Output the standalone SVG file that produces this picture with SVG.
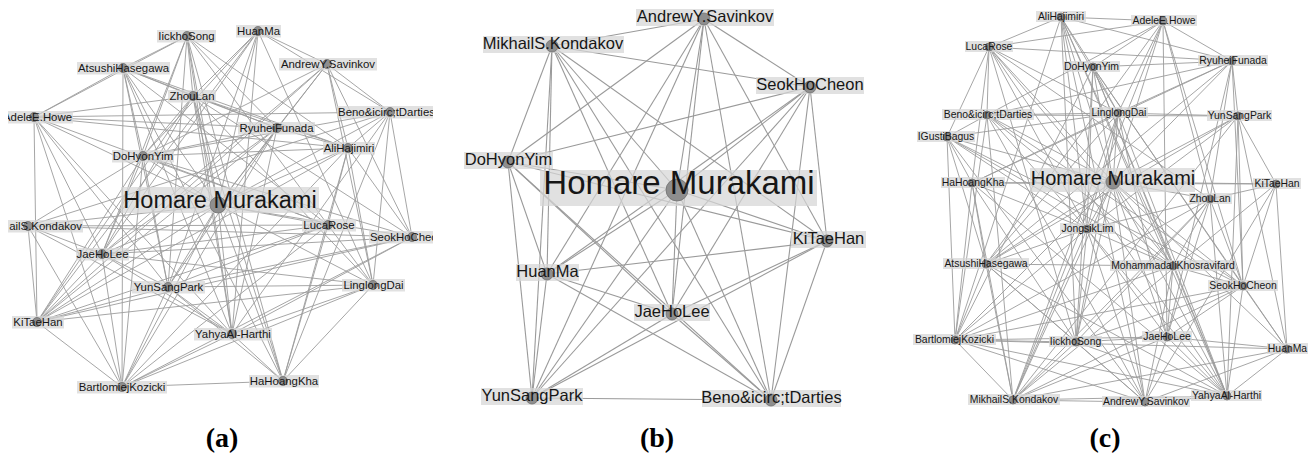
<svg xmlns="http://www.w3.org/2000/svg" width="1315" height="458" viewBox="0 0 1315 458">
<style>
.e line{stroke:#9c9c9c;stroke-width:0.9;fill:none}
.eb line{stroke:#9a9a9a;stroke-width:1.1}
.lbl{fill:#d6d6d6;fill-opacity:0.72}
.nd{fill:#8e8e8e;stroke:#707070;stroke-width:0.8}
.t{font-family:"Liberation Sans",Arial,sans-serif;fill:#161616;text-anchor:middle}
.ta{font-size:11.4px}
.tb{font-size:16.5px}
.tc{font-size:10.4px}
.cap{font-family:"Liberation Serif","Times New Roman",serif;font-weight:bold;font-size:28px;text-anchor:middle;fill:#000}
</style>
<defs>
<clipPath id="clipA"><rect x="8" y="0" width="425" height="420"/></clipPath>
</defs>
<rect width="1315" height="458" fill="#fff"/>
<g id="connectors">
<g id="edges-a" class="e" clip-path="url(#clipA)">
<line x1="218" y1="205" x2="187" y2="36"/><line x1="218" y1="205" x2="258" y2="31"/><line x1="218" y1="205" x2="123" y2="68"/><line x1="218" y1="205" x2="327" y2="64"/><line x1="218" y1="205" x2="193" y2="96"/><line x1="218" y1="205" x2="34" y2="117"/><line x1="218" y1="205" x2="390" y2="112"/><line x1="218" y1="205" x2="277" y2="128"/><line x1="218" y1="205" x2="348" y2="148"/><line x1="218" y1="205" x2="143" y2="156"/><line x1="218" y1="205" x2="28" y2="226"/><line x1="218" y1="205" x2="328" y2="225"/><line x1="218" y1="205" x2="412" y2="237"/><line x1="218" y1="205" x2="102" y2="254"/><line x1="218" y1="205" x2="168" y2="287"/><line x1="218" y1="205" x2="373" y2="285"/><line x1="218" y1="205" x2="37" y2="322"/><line x1="218" y1="205" x2="232" y2="334"/><line x1="218" y1="205" x2="283" y2="381"/><line x1="218" y1="205" x2="122" y2="387"/>
<line x1="34" y1="117" x2="187" y2="36"/><line x1="34" y1="117" x2="123" y2="68"/><line x1="34" y1="117" x2="193" y2="96"/><line x1="34" y1="117" x2="277" y2="128"/><line x1="34" y1="117" x2="348" y2="148"/><line x1="34" y1="117" x2="390" y2="112"/><line x1="34" y1="117" x2="102" y2="254"/><line x1="34" y1="117" x2="168" y2="287"/><line x1="34" y1="117" x2="37" y2="322"/><line x1="34" y1="117" x2="328" y2="225"/><line x1="34" y1="117" x2="122" y2="387"/><line x1="34" y1="117" x2="232" y2="334"/>
<line x1="187" y1="36" x2="123" y2="68"/><line x1="187" y1="36" x2="193" y2="96"/><line x1="187" y1="36" x2="277" y2="128"/><line x1="187" y1="36" x2="348" y2="148"/><line x1="187" y1="36" x2="143" y2="156"/><line x1="187" y1="36" x2="168" y2="287"/><line x1="187" y1="36" x2="232" y2="334"/><line x1="187" y1="36" x2="102" y2="254"/><line x1="187" y1="36" x2="328" y2="225"/><line x1="187" y1="36" x2="283" y2="381"/>
<line x1="258" y1="31" x2="327" y2="64"/><line x1="258" y1="31" x2="390" y2="112"/><line x1="258" y1="31" x2="143" y2="156"/><line x1="258" y1="31" x2="102" y2="254"/><line x1="258" y1="31" x2="193" y2="96"/><line x1="258" y1="31" x2="37" y2="322"/><line x1="258" y1="31" x2="168" y2="287"/><line x1="258" y1="31" x2="373" y2="285"/><line x1="258" y1="31" x2="232" y2="334"/>
<line x1="123" y1="68" x2="193" y2="96"/><line x1="123" y1="68" x2="277" y2="128"/><line x1="123" y1="68" x2="348" y2="148"/><line x1="123" y1="68" x2="143" y2="156"/><line x1="123" y1="68" x2="122" y2="387"/><line x1="123" y1="68" x2="168" y2="287"/><line x1="123" y1="68" x2="232" y2="334"/><line x1="123" y1="68" x2="283" y2="381"/><line x1="123" y1="68" x2="328" y2="225"/>
<line x1="327" y1="64" x2="277" y2="128"/><line x1="327" y1="64" x2="348" y2="148"/><line x1="327" y1="64" x2="390" y2="112"/><line x1="327" y1="64" x2="143" y2="156"/><line x1="327" y1="64" x2="102" y2="254"/><line x1="327" y1="64" x2="37" y2="322"/><line x1="327" y1="64" x2="373" y2="285"/><line x1="327" y1="64" x2="412" y2="237"/>
<line x1="193" y1="96" x2="277" y2="128"/><line x1="193" y1="96" x2="348" y2="148"/><line x1="193" y1="96" x2="143" y2="156"/><line x1="193" y1="96" x2="37" y2="322"/><line x1="193" y1="96" x2="102" y2="254"/><line x1="193" y1="96" x2="232" y2="334"/><line x1="193" y1="96" x2="373" y2="285"/><line x1="193" y1="96" x2="283" y2="381"/><line x1="193" y1="96" x2="412" y2="237"/>
<line x1="390" y1="112" x2="348" y2="148"/><line x1="390" y1="112" x2="412" y2="237"/><line x1="390" y1="112" x2="373" y2="285"/><line x1="390" y1="112" x2="143" y2="156"/><line x1="390" y1="112" x2="28" y2="226"/><line x1="390" y1="112" x2="283" y2="381"/><line x1="390" y1="112" x2="232" y2="334"/>
<line x1="277" y1="128" x2="348" y2="148"/><line x1="277" y1="128" x2="143" y2="156"/><line x1="277" y1="128" x2="37" y2="322"/><line x1="277" y1="128" x2="102" y2="254"/><line x1="277" y1="128" x2="168" y2="287"/><line x1="277" y1="128" x2="232" y2="334"/><line x1="277" y1="128" x2="122" y2="387"/>
<line x1="348" y1="148" x2="143" y2="156"/><line x1="348" y1="148" x2="328" y2="225"/><line x1="348" y1="148" x2="412" y2="237"/><line x1="348" y1="148" x2="373" y2="285"/><line x1="348" y1="148" x2="283" y2="381"/><line x1="348" y1="148" x2="122" y2="387"/><line x1="348" y1="148" x2="37" y2="322"/>
<line x1="143" y1="156" x2="102" y2="254"/><line x1="143" y1="156" x2="37" y2="322"/><line x1="143" y1="156" x2="168" y2="287"/><line x1="143" y1="156" x2="328" y2="225"/><line x1="143" y1="156" x2="412" y2="237"/><line x1="143" y1="156" x2="122" y2="387"/><line x1="143" y1="156" x2="28" y2="226"/>
<line x1="28" y1="226" x2="102" y2="254"/><line x1="28" y1="226" x2="37" y2="322"/><line x1="28" y1="226" x2="328" y2="225"/><line x1="28" y1="226" x2="412" y2="237"/><line x1="28" y1="226" x2="232" y2="334"/><line x1="28" y1="226" x2="122" y2="387"/>
<line x1="328" y1="225" x2="102" y2="254"/><line x1="328" y1="225" x2="168" y2="287"/><line x1="328" y1="225" x2="37" y2="322"/><line x1="328" y1="225" x2="373" y2="285"/><line x1="328" y1="225" x2="122" y2="387"/><line x1="328" y1="225" x2="283" y2="381"/>
<line x1="412" y1="237" x2="102" y2="254"/><line x1="412" y1="237" x2="168" y2="287"/><line x1="412" y1="237" x2="37" y2="322"/><line x1="412" y1="237" x2="122" y2="387"/><line x1="412" y1="237" x2="232" y2="334"/>
<line x1="102" y1="254" x2="168" y2="287"/><line x1="102" y1="254" x2="37" y2="322"/><line x1="102" y1="254" x2="232" y2="334"/><line x1="102" y1="254" x2="373" y2="285"/><line x1="102" y1="254" x2="122" y2="387"/>
<line x1="168" y1="287" x2="37" y2="322"/><line x1="168" y1="287" x2="232" y2="334"/><line x1="168" y1="287" x2="373" y2="285"/><line x1="168" y1="287" x2="283" y2="381"/><line x1="168" y1="287" x2="122" y2="387"/>
<line x1="373" y1="285" x2="37" y2="322"/><line x1="373" y1="285" x2="232" y2="334"/><line x1="373" y1="285" x2="283" y2="381"/><line x1="373" y1="285" x2="122" y2="387"/>
<line x1="37" y1="322" x2="122" y2="387"/><line x1="232" y1="334" x2="283" y2="381"/><line x1="232" y1="334" x2="122" y2="387"/><line x1="283" y1="381" x2="122" y2="387"/>
</g>
<g id="edges-b" class="e eb">
<line x1="677" y1="190" x2="704" y2="19"/><line x1="677" y1="190" x2="552" y2="46"/><line x1="677" y1="190" x2="810" y2="87"/><line x1="677" y1="190" x2="508" y2="162"/><line x1="677" y1="190" x2="827" y2="241"/><line x1="677" y1="190" x2="547" y2="274"/><line x1="677" y1="190" x2="672" y2="314"/><line x1="677" y1="190" x2="532" y2="398"/><line x1="677" y1="190" x2="771" y2="400"/>
<line x1="704" y1="19" x2="552" y2="46"/><line x1="704" y1="19" x2="810" y2="87"/><line x1="704" y1="19" x2="508" y2="162"/><line x1="704" y1="19" x2="827" y2="241"/><line x1="704" y1="19" x2="547" y2="274"/><line x1="704" y1="19" x2="672" y2="314"/><line x1="704" y1="19" x2="532" y2="398"/><line x1="704" y1="19" x2="771" y2="400"/>
<line x1="552" y1="46" x2="810" y2="87"/><line x1="552" y1="46" x2="508" y2="162"/><line x1="552" y1="46" x2="827" y2="241"/><line x1="552" y1="46" x2="547" y2="274"/><line x1="552" y1="46" x2="672" y2="314"/><line x1="552" y1="46" x2="532" y2="398"/><line x1="552" y1="46" x2="771" y2="400"/>
<line x1="810" y1="87" x2="508" y2="162"/><line x1="810" y1="87" x2="827" y2="241"/><line x1="810" y1="87" x2="547" y2="274"/><line x1="810" y1="87" x2="672" y2="314"/><line x1="810" y1="87" x2="532" y2="398"/><line x1="810" y1="87" x2="771" y2="400"/>
<line x1="508" y1="162" x2="827" y2="241"/><line x1="508" y1="162" x2="547" y2="274"/><line x1="508" y1="162" x2="672" y2="314"/><line x1="508" y1="162" x2="532" y2="398"/><line x1="508" y1="162" x2="771" y2="400"/>
<line x1="827" y1="241" x2="547" y2="274"/><line x1="827" y1="241" x2="672" y2="314"/><line x1="827" y1="241" x2="532" y2="398"/><line x1="827" y1="241" x2="771" y2="400"/>
<line x1="547" y1="274" x2="672" y2="314"/><line x1="547" y1="274" x2="532" y2="398"/><line x1="547" y1="274" x2="771" y2="400"/>
<line x1="672" y1="314" x2="532" y2="398"/><line x1="672" y1="314" x2="771" y2="400"/>
<line x1="532" y1="398" x2="771" y2="400"/>
</g>
<g id="edges-c" class="e">
<line x1="1113" y1="182" x2="1061" y2="17"/><line x1="1113" y1="182" x2="1163" y2="21"/><line x1="1113" y1="182" x2="989" y2="47"/><line x1="1113" y1="182" x2="1232" y2="61"/><line x1="1113" y1="182" x2="1093" y2="67"/><line x1="1113" y1="182" x2="987" y2="115"/><line x1="1113" y1="182" x2="1118" y2="113"/><line x1="1113" y1="182" x2="1238" y2="116"/><line x1="1113" y1="182" x2="947" y2="137"/><line x1="1113" y1="182" x2="972" y2="183"/><line x1="1113" y1="182" x2="1276" y2="184"/><line x1="1113" y1="182" x2="1210" y2="199"/><line x1="1113" y1="182" x2="1087" y2="229"/><line x1="1113" y1="182" x2="986" y2="264"/><line x1="1113" y1="182" x2="1173" y2="266"/><line x1="1113" y1="182" x2="1243" y2="286"/><line x1="1113" y1="182" x2="955" y2="340"/><line x1="1113" y1="182" x2="1076" y2="342"/><line x1="1113" y1="182" x2="1167" y2="337"/><line x1="1113" y1="182" x2="1287" y2="349"/><line x1="1113" y1="182" x2="1013" y2="400"/><line x1="1113" y1="182" x2="1145" y2="402"/><line x1="1113" y1="182" x2="1227" y2="396"/>
<line x1="1061" y1="17" x2="1163" y2="21"/><line x1="1061" y1="17" x2="989" y2="47"/><line x1="1061" y1="17" x2="1232" y2="61"/><line x1="1061" y1="17" x2="1093" y2="67"/><line x1="1061" y1="17" x2="1118" y2="113"/><line x1="1061" y1="17" x2="1087" y2="229"/><line x1="1061" y1="17" x2="1076" y2="342"/><line x1="1061" y1="17" x2="1173" y2="266"/><line x1="1061" y1="17" x2="955" y2="340"/><line x1="1061" y1="17" x2="1227" y2="396"/><line x1="1061" y1="17" x2="1145" y2="402"/>
<line x1="1163" y1="21" x2="989" y2="47"/><line x1="1163" y1="21" x2="1232" y2="61"/><line x1="1163" y1="21" x2="1093" y2="67"/><line x1="1163" y1="21" x2="1118" y2="113"/><line x1="1163" y1="21" x2="1210" y2="199"/><line x1="1163" y1="21" x2="1243" y2="286"/><line x1="1163" y1="21" x2="1167" y2="337"/><line x1="1163" y1="21" x2="987" y2="115"/><line x1="1163" y1="21" x2="986" y2="264"/><line x1="1163" y1="21" x2="1013" y2="400"/>
<line x1="989" y1="47" x2="1232" y2="61"/><line x1="989" y1="47" x2="987" y2="115"/><line x1="989" y1="47" x2="947" y2="137"/><line x1="989" y1="47" x2="972" y2="183"/><line x1="989" y1="47" x2="1118" y2="113"/><line x1="989" y1="47" x2="1087" y2="229"/><line x1="989" y1="47" x2="1173" y2="266"/><line x1="989" y1="47" x2="1210" y2="199"/><line x1="989" y1="47" x2="1227" y2="396"/><line x1="989" y1="47" x2="1076" y2="342"/>
<line x1="1232" y1="61" x2="1093" y2="67"/><line x1="1232" y1="61" x2="1118" y2="113"/><line x1="1232" y1="61" x2="1238" y2="116"/><line x1="1232" y1="61" x2="987" y2="115"/><line x1="1232" y1="61" x2="1167" y2="337"/><line x1="1232" y1="61" x2="1210" y2="199"/><line x1="1232" y1="61" x2="1243" y2="286"/><line x1="1232" y1="61" x2="972" y2="183"/><line x1="1232" y1="61" x2="986" y2="264"/>
<line x1="1093" y1="67" x2="1118" y2="113"/><line x1="1093" y1="67" x2="1087" y2="229"/><line x1="1093" y1="67" x2="1173" y2="266"/><line x1="1093" y1="67" x2="1243" y2="286"/><line x1="1093" y1="67" x2="1287" y2="349"/><line x1="1093" y1="67" x2="1076" y2="342"/><line x1="1093" y1="67" x2="955" y2="340"/><line x1="1093" y1="67" x2="1227" y2="396"/>
<line x1="987" y1="115" x2="1118" y2="113"/><line x1="987" y1="115" x2="1238" y2="116"/><line x1="987" y1="115" x2="947" y2="137"/><line x1="987" y1="115" x2="1087" y2="229"/><line x1="987" y1="115" x2="1173" y2="266"/><line x1="987" y1="115" x2="1243" y2="286"/><line x1="987" y1="115" x2="1145" y2="402"/><line x1="987" y1="115" x2="955" y2="340"/><line x1="987" y1="115" x2="1013" y2="400"/>
<line x1="1118" y1="113" x2="1238" y2="116"/><line x1="1118" y1="113" x2="947" y2="137"/><line x1="1118" y1="113" x2="972" y2="183"/><line x1="1118" y1="113" x2="986" y2="264"/><line x1="1118" y1="113" x2="1087" y2="229"/><line x1="1118" y1="113" x2="1167" y2="337"/><line x1="1118" y1="113" x2="1076" y2="342"/><line x1="1118" y1="113" x2="1227" y2="396"/><line x1="1118" y1="113" x2="1013" y2="400"/>
<line x1="1238" y1="116" x2="1276" y2="184"/><line x1="1238" y1="116" x2="1243" y2="286"/><line x1="1238" y1="116" x2="1287" y2="349"/><line x1="1238" y1="116" x2="1087" y2="229"/><line x1="1238" y1="116" x2="1013" y2="400"/><line x1="1238" y1="116" x2="986" y2="264"/><line x1="1238" y1="116" x2="1227" y2="396"/>
<line x1="947" y1="137" x2="972" y2="183"/><line x1="947" y1="137" x2="986" y2="264"/><line x1="947" y1="137" x2="955" y2="340"/><line x1="947" y1="137" x2="1173" y2="266"/><line x1="947" y1="137" x2="1087" y2="229"/><line x1="947" y1="137" x2="1243" y2="286"/><line x1="947" y1="137" x2="1145" y2="402"/>
<line x1="972" y1="183" x2="1276" y2="184"/><line x1="972" y1="183" x2="986" y2="264"/><line x1="972" y1="183" x2="955" y2="340"/><line x1="972" y1="183" x2="1087" y2="229"/><line x1="972" y1="183" x2="1013" y2="400"/><line x1="972" y1="183" x2="1076" y2="342"/><line x1="972" y1="183" x2="1227" y2="396"/>
<line x1="1276" y1="184" x2="1210" y2="199"/><line x1="1276" y1="184" x2="1243" y2="286"/><line x1="1276" y1="184" x2="1287" y2="349"/><line x1="1276" y1="184" x2="1013" y2="400"/><line x1="1276" y1="184" x2="1145" y2="402"/>
<line x1="1210" y1="199" x2="1087" y2="229"/><line x1="1210" y1="199" x2="1173" y2="266"/><line x1="1210" y1="199" x2="1243" y2="286"/><line x1="1210" y1="199" x2="1167" y2="337"/><line x1="1210" y1="199" x2="1227" y2="396"/><line x1="1210" y1="199" x2="1013" y2="400"/><line x1="1210" y1="199" x2="955" y2="340"/><line x1="1210" y1="199" x2="1076" y2="342"/>
<line x1="1087" y1="229" x2="986" y2="264"/><line x1="1087" y1="229" x2="1173" y2="266"/><line x1="1087" y1="229" x2="955" y2="340"/><line x1="1087" y1="229" x2="1076" y2="342"/><line x1="1087" y1="229" x2="1167" y2="337"/><line x1="1087" y1="229" x2="1227" y2="396"/><line x1="1087" y1="229" x2="1145" y2="402"/><line x1="1087" y1="229" x2="1013" y2="400"/>
<line x1="986" y1="264" x2="1173" y2="266"/><line x1="986" y1="264" x2="955" y2="340"/><line x1="986" y1="264" x2="1076" y2="342"/><line x1="986" y1="264" x2="1013" y2="400"/><line x1="986" y1="264" x2="1145" y2="402"/><line x1="986" y1="264" x2="1227" y2="396"/>
<line x1="1173" y1="266" x2="1243" y2="286"/><line x1="1173" y1="266" x2="1167" y2="337"/><line x1="1173" y1="266" x2="1227" y2="396"/><line x1="1173" y1="266" x2="1145" y2="402"/><line x1="1173" y1="266" x2="955" y2="340"/>
<line x1="1243" y1="286" x2="1287" y2="349"/><line x1="1243" y1="286" x2="1167" y2="337"/><line x1="1243" y1="286" x2="1227" y2="396"/><line x1="1243" y1="286" x2="955" y2="340"/><line x1="1243" y1="286" x2="1013" y2="400"/><line x1="1243" y1="286" x2="1076" y2="342"/>
<line x1="955" y1="340" x2="1076" y2="342"/><line x1="955" y1="340" x2="1167" y2="337"/><line x1="955" y1="340" x2="1013" y2="400"/><line x1="955" y1="340" x2="1145" y2="402"/><line x1="955" y1="340" x2="1227" y2="396"/><line x1="955" y1="340" x2="1287" y2="349"/>
<line x1="1076" y1="342" x2="1167" y2="337"/><line x1="1076" y1="342" x2="1013" y2="400"/><line x1="1076" y1="342" x2="1145" y2="402"/><line x1="1076" y1="342" x2="1227" y2="396"/>
<line x1="1167" y1="337" x2="1287" y2="349"/><line x1="1167" y1="337" x2="1227" y2="396"/><line x1="1167" y1="337" x2="1145" y2="402"/><line x1="1167" y1="337" x2="1013" y2="400"/>
<line x1="1287" y1="349" x2="1227" y2="396"/><line x1="1287" y1="349" x2="1013" y2="400"/><line x1="1287" y1="349" x2="1145" y2="402"/>
<line x1="1013" y1="400" x2="1145" y2="402"/><line x1="1013" y1="400" x2="1227" y2="396"/><line x1="1145" y1="402" x2="1227" y2="396"/>
</g>
</g>
<g id="panel-a" clip-path="url(#clipA)">
<g id="a-HomareMurakami"><rect class="lbl" x="121" y="187" width="198" height="26"/><circle class="nd" cx="218" cy="205" r="8"/><text class="t" x="220" y="208" font-size="23.5">Homare Murakami</text></g>
<g id="a-IickhoSong"><rect class="lbl" x="157" y="30" width="59" height="12.5"/><circle class="nd" cx="187" cy="36" r="4.5"/><text class="t ta" x="186.5" y="39.5">IickhoSong</text></g>
<g id="a-HuanMa"><rect class="lbl" x="236" y="25" width="45" height="12.5"/><circle class="nd" cx="258" cy="31" r="4.5"/><text class="t ta" x="258.5" y="34.5">HuanMa</text></g>
<g id="a-AtsushiHasegawa"><rect class="lbl" x="77" y="62" width="93" height="12.5"/><circle class="nd" cx="123" cy="68" r="4.5"/><text class="t ta" x="123.5" y="71.5">AtsushiHasegawa</text></g>
<g id="a-AndrewYSavinkov"><rect class="lbl" x="279" y="58" width="98" height="12.5"/><circle class="nd" cx="327" cy="64" r="4.5"/><text class="t ta" x="328" y="67.5">AndrewY.Savinkov</text></g>
<g id="a-ZhouLan"><rect class="lbl" x="168" y="90" width="48" height="12.5"/><circle class="nd" cx="193" cy="96" r="4.5"/><text class="t ta" x="192" y="99.5">ZhouLan</text></g>
<g id="a-AdeleEHowe"><rect class="lbl" x="2" y="111" width="71" height="12.5"/><circle class="nd" cx="34" cy="117" r="4.5"/><text class="t ta" x="37.5" y="120.5">AdeleE.Howe</text></g>
<g id="a-BenoitDarties"><rect class="lbl" x="337" y="106" width="99" height="12.5"/><circle class="nd" cx="390" cy="112" r="4.5"/><text class="t ta" x="386.5" y="115.5">Beno&amp;icirc;tDarties</text></g>
<g id="a-RyuheiFunada"><rect class="lbl" x="238" y="122" width="77" height="12.5"/><circle class="nd" cx="277" cy="128" r="4.5"/><text class="t ta" x="276.5" y="131.5">RyuheiFunada</text></g>
<g id="a-AliHajimiri"><rect class="lbl" x="323" y="142" width="52" height="12.5"/><circle class="nd" cx="348" cy="148" r="4.5"/><text class="t ta" x="349" y="151.5">AliHajimiri</text></g>
<g id="a-DoHyonYim"><rect class="lbl" x="112" y="150" width="62" height="12.5"/><circle class="nd" cx="143" cy="156" r="4.5"/><text class="t ta" x="143" y="159.5">DoHyonYim</text></g>
<g id="a-MikhailSKondakov"><rect class="lbl" x="8" y="220" width="75" height="12.5"/><circle class="nd" cx="28" cy="226" r="4.5"/><text class="t ta" x="82" y="229.5" text-anchor="end" style="text-anchor:end">ailS.Kondakov</text></g>
<g id="a-LucaRose"><rect class="lbl" x="302" y="219" width="54" height="12.5"/><circle class="nd" cx="328" cy="225" r="4.5"/><text class="t ta" x="329" y="228.5">LucaRose</text></g>
<g id="a-SeokHoCheon"><rect class="lbl" x="369" y="231" width="76" height="12.5"/><circle class="nd" cx="412" cy="237" r="4.5"/><text class="t ta" x="407" y="240.5">SeokHoCheon</text></g>
<g id="a-JaeHoLee"><rect class="lbl" x="76" y="248" width="53" height="12.5"/><circle class="nd" cx="102" cy="254" r="4.5"/><text class="t ta" x="102.5" y="257.5">JaeHoLee</text></g>
<g id="a-YunSangPark"><rect class="lbl" x="132" y="281" width="73" height="12.5"/><circle class="nd" cx="168" cy="287" r="4.5"/><text class="t ta" x="168.5" y="290.5">YunSangPark</text></g>
<g id="a-LinglongDai"><rect class="lbl" x="342" y="279" width="63" height="12.5"/><circle class="nd" cx="373" cy="285" r="4.5"/><text class="t ta" x="373.5" y="288.5">LinglongDai</text></g>
<g id="a-KiTaeHan"><rect class="lbl" x="12" y="316" width="52" height="12.5"/><circle class="nd" cx="37" cy="322" r="4.5"/><text class="t ta" x="38" y="325.5">KiTaeHan</text></g>
<g id="a-YahyaAlHarthi"><rect class="lbl" x="194" y="328" width="78" height="12.5"/><circle class="nd" cx="232" cy="334" r="4.5"/><text class="t ta" x="233" y="337.5">YahyaAl-Harthi</text></g>
<g id="a-HaHoangKha"><rect class="lbl" x="249" y="375" width="70" height="12.5"/><circle class="nd" cx="283" cy="381" r="4.5"/><text class="t ta" x="284" y="384.5">HaHoangKha</text></g>
<g id="a-BartlomiejKozicki"><rect class="lbl" x="77" y="381" width="90" height="12.5"/><circle class="nd" cx="122" cy="387" r="4.5"/><text class="t ta" x="122" y="390.5">BartlomiejKozicki</text></g>
</g>
<g id="panel-b">
<g id="b-HomareMurakami"><rect class="lbl" x="540" y="170" width="277" height="36"/><circle class="nd" cx="677" cy="190" r="11"/><text class="t" x="679" y="194" font-size="33">Homare Murakami</text></g>
<g id="b-AndrewYSavinkov"><rect class="lbl" x="636" y="9" width="138" height="17"/><circle class="nd" cx="704" cy="19" r="6"/><text class="t tb" x="705" y="22">AndrewY.Savinkov</text></g>
<g id="b-MikhailSKondakov"><rect class="lbl" x="483" y="36" width="141" height="17"/><circle class="nd" cx="552" cy="46" r="6"/><text class="t tb" x="553" y="49">MikhailS.Kondakov</text></g>
<g id="b-SeokHoCheon"><rect class="lbl" x="756" y="77" width="108" height="17"/><circle class="nd" cx="810" cy="87" r="6"/><text class="t tb" x="810" y="90">SeokHoCheon</text></g>
<g id="b-DoHyonYim"><rect class="lbl" x="464" y="152" width="89" height="17"/><circle class="nd" cx="508" cy="162" r="6"/><text class="t tb" x="508.5" y="165">DoHyonYim</text></g>
<g id="b-KiTaeHan"><rect class="lbl" x="791" y="231" width="75" height="17"/><circle class="nd" cx="827" cy="241" r="6"/><text class="t tb" x="828.5" y="244">KiTaeHan</text></g>
<g id="b-HuanMa"><rect class="lbl" x="516" y="264" width="63" height="17"/><circle class="nd" cx="547" cy="274" r="6"/><text class="t tb" x="547.5" y="277">HuanMa</text></g>
<g id="b-JaeHoLee"><rect class="lbl" x="634" y="304" width="76" height="17"/><circle class="nd" cx="672" cy="314" r="6"/><text class="t tb" x="672" y="317">JaeHoLee</text></g>
<g id="b-YunSangPark"><rect class="lbl" x="481" y="388" width="102" height="17"/><circle class="nd" cx="532" cy="398" r="6"/><text class="t tb" x="532" y="401">YunSangPark</text></g>
<g id="b-BenoitDarties"><rect class="lbl" x="702" y="390" width="139" height="17"/><circle class="nd" cx="771" cy="400" r="6"/><text class="t tb" x="771.5" y="403">Beno&amp;icirc;tDarties</text></g>
</g>
<g id="panel-c">
<g id="c-HomareMurakami"><rect class="lbl" x="1030" y="168" width="165" height="24"/><circle class="nd" cx="1113" cy="182" r="7"/><text class="t" x="1113" y="185" font-size="20">Homare Murakami</text></g>
<g id="c-AliHajimiri"><rect class="lbl" x="1036" y="11" width="50" height="11"/><circle class="nd" cx="1061" cy="17" r="4"/><text class="t tc" x="1061" y="20">AliHajimiri</text></g>
<g id="c-AdeleEHowe"><rect class="lbl" x="1131" y="15" width="66" height="11"/><circle class="nd" cx="1163" cy="21" r="4"/><text class="t tc" x="1164" y="24">AdeleE.Howe</text></g>
<g id="c-LucaRose"><rect class="lbl" x="965" y="41" width="48" height="11"/><circle class="nd" cx="989" cy="47" r="4"/><text class="t tc" x="989" y="50">LucaRose</text></g>
<g id="c-RyuheiFunada"><rect class="lbl" x="1198" y="55" width="70" height="11"/><circle class="nd" cx="1232" cy="61" r="4"/><text class="t tc" x="1233" y="64">RyuheiFunada</text></g>
<g id="c-DoHyonYim"><rect class="lbl" x="1063" y="61" width="57" height="11"/><circle class="nd" cx="1093" cy="67" r="4"/><text class="t tc" x="1091.5" y="70">DoHyonYim</text></g>
<g id="c-BenoitDarties"><rect class="lbl" x="942" y="109" width="92" height="11"/><circle class="nd" cx="987" cy="115" r="4"/><text class="t tc" x="988" y="118">Beno&amp;icirc;tDarties</text></g>
<g id="c-LinglongDai"><rect class="lbl" x="1090" y="107" width="58" height="11"/><circle class="nd" cx="1118" cy="113" r="4"/><text class="t tc" x="1119" y="116">LinglongDai</text></g>
<g id="c-YunSangPark"><rect class="lbl" x="1207" y="110" width="65" height="11"/><circle class="nd" cx="1238" cy="116" r="4"/><text class="t tc" x="1239.5" y="119">YunSangPark</text></g>
<g id="c-IGustiBagus"><rect class="lbl" x="917" y="131" width="58" height="11"/><circle class="nd" cx="947" cy="137" r="4"/><text class="t tc" x="946" y="140">IGustiBagus</text></g>
<g id="c-HaHoangKha"><rect class="lbl" x="941" y="177" width="64" height="11"/><circle class="nd" cx="972" cy="183" r="4"/><text class="t tc" x="973" y="186">HaHoangKha</text></g>
<g id="c-KiTaeHan"><rect class="lbl" x="1253" y="178" width="48" height="11"/><circle class="nd" cx="1276" cy="184" r="4"/><text class="t tc" x="1277" y="187">KiTaeHan</text></g>
<g id="c-ZhouLan"><rect class="lbl" x="1189" y="193" width="43" height="11"/><circle class="nd" cx="1210" cy="199" r="4"/><text class="t tc" x="1210" y="202">ZhouLan</text></g>
<g id="c-JongsikLim"><rect class="lbl" x="1060" y="223" width="55" height="11"/><circle class="nd" cx="1087" cy="229" r="4"/><text class="t tc" x="1087.5" y="232">JongsikLim</text></g>
<g id="c-AtsushiHasegawa"><rect class="lbl" x="943" y="258" width="86" height="11"/><circle class="nd" cx="986" cy="264" r="4"/><text class="t tc" x="986" y="267">AtsushiHasegawa</text></g>
<g id="c-MohammadaliKhosravifard"><rect class="lbl" x="1110" y="260" width="126" height="11"/><circle class="nd" cx="1173" cy="266" r="4"/><text class="t tc" x="1173" y="269">MohammadaliKhosravifard</text></g>
<g id="c-SeokHoCheon"><rect class="lbl" x="1208" y="280" width="70" height="11"/><circle class="nd" cx="1243" cy="286" r="4"/><text class="t tc" x="1243" y="289">SeokHoCheon</text></g>
<g id="c-BartlomiejKozicki"><rect class="lbl" x="913" y="334" width="83" height="11"/><circle class="nd" cx="955" cy="340" r="4"/><text class="t tc" x="954.5" y="343">BartlomiejKozicki</text></g>
<g id="c-IickhoSong"><rect class="lbl" x="1049" y="336" width="53" height="11"/><circle class="nd" cx="1076" cy="342" r="4"/><text class="t tc" x="1075.5" y="345">IickhoSong</text></g>
<g id="c-JaeHoLee"><rect class="lbl" x="1142" y="331" width="50" height="11"/><circle class="nd" cx="1167" cy="337" r="4"/><text class="t tc" x="1167" y="340">JaeHoLee</text></g>
<g id="c-HuanMa"><rect class="lbl" x="1267" y="343" width="41" height="11"/><circle class="nd" cx="1287" cy="349" r="4"/><text class="t tc" x="1287.5" y="352">HuanMa</text></g>
<g id="c-MikhailSKondakov"><rect class="lbl" x="968" y="394" width="92" height="11"/><circle class="nd" cx="1013" cy="400" r="4"/><text class="t tc" x="1014" y="403">MikhailS.Kondakov</text></g>
<g id="c-AndrewYSavinkov"><rect class="lbl" x="1102" y="396" width="88" height="11"/><circle class="nd" cx="1145" cy="402" r="4"/><text class="t tc" x="1146" y="405">AndrewY.Savinkov</text></g>
<g id="c-YahyaAlHarthi"><rect class="lbl" x="1191" y="390" width="71" height="11"/><circle class="nd" cx="1227" cy="396" r="4"/><text class="t tc" x="1226.5" y="399">YahyaAl-Harthi</text></g>
</g>
<g id="captions">
<text class="cap" x="222" y="447">(a)</text>
<text class="cap" x="657" y="447">(b)</text>
<text class="cap" x="1105" y="447">(c)</text>
</g>
</svg>
